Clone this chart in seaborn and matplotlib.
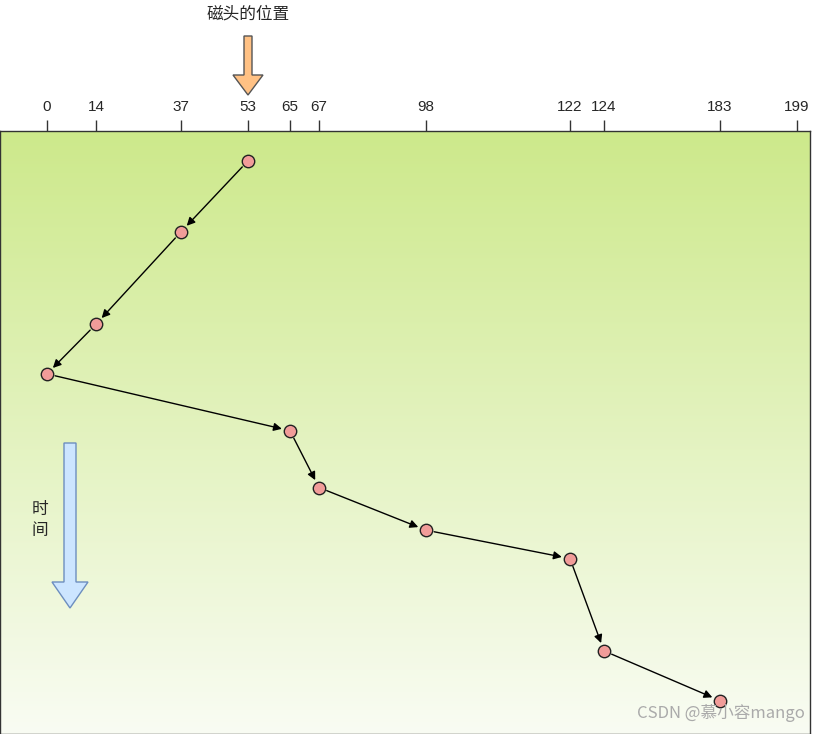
import numpy as np
import matplotlib.pyplot as plt
import matplotlib.colors as mcolors
import matplotlib.patches as mpatches
import seaborn as sns

sns.set_style("white")
plt.rcParams['font.family'] = ['Noto Sans CJK SC', 'DejaVu Sans']

# head positions in service order, and time steps
positions = [53, 37, 14, 0, 65, 67, 98, 122, 124, 183]
times = [0, 1.0, 2.3, 3.0, 3.8, 4.6, 5.2, 5.6, 6.9, 7.6]
tick_values = [0, 14, 37, 53, 65, 67, 98, 122, 124, 183, 199]

# the drawing's cylinder axis is not evenly spaced: piecewise scale anchors
scale_vals = [-12.5] + tick_values + [202.4]
scale_px = [0, 47, 96, 181, 248, 290, 319, 426, 570, 604, 720, 797, 810]


def fwd(v):
    return np.interp(v, scale_vals, scale_px)


def inv(p):
    return np.interp(p, scale_px, scale_vals)


fig = plt.figure(figsize=(8.19, 7.34), dpi=100)
ax = fig.add_axes([0.0, 0.0, 810 / 819, (733 - 130) / 734])
ax.set_xscale("function", functions=(fwd, inv))

# gradient background
cmap = mcolors.LinearSegmentedColormap.from_list("g", ["#cde98b", "#f9fcf3"])
grad = np.linspace(0, 1, 256).reshape(-1, 1)
ax.imshow(grad, cmap=cmap, aspect="auto", extent=[0, 1, 0, 1],
          transform=ax.transAxes, origin="upper", zorder=0)

# arrows between consecutive requests
for i in range(len(positions) - 1):
    ax.annotate("", xy=(positions[i + 1], times[i + 1]), xytext=(positions[i], times[i]),
                arrowprops=dict(arrowstyle="-|>", color="black", lw=1,
                                shrinkA=6, shrinkB=6, mutation_scale=12), zorder=2)

sns.scatterplot(x=positions, y=times, ax=ax, s=80, color="#f19c99",
                edgecolor="#222222", linewidth=1, zorder=3)

ax.set_xlim(-12.5, 202.4)
ax.set_ylim(8.07, -0.42)
ax.xaxis.tick_top()
ax.set_xticks(tick_values)
ax.set_xticklabels([str(v) for v in tick_values], fontsize=11, family="Liberation Sans")
ax.xaxis.set_minor_locator(plt.NullLocator())
ax.tick_params(axis="x", direction="out", length=8, width=1, color="#333333", pad=4)
ax.set_yticks([])
for s in ax.spines.values():
    s.set_color("#333333")
    s.set_linewidth(1)

# head position label and arrow
fig.text(248 / 819, 1 - 14 / 734, "磁头的位置", ha="center", va="center", fontsize=12)
fig.patches.append(mpatches.FancyArrow(
    248 / 819, 1 - 36 / 734, 0, -(95 - 36) / 734, width=8 / 819, head_width=30 / 819,
    head_length=20 / 734, length_includes_head=True, transform=fig.transFigure,
    facecolor="#ffc184", edgecolor="#555555", lw=1))

# time arrow
fig.text(40 / 819, 1 - 520 / 734, "时\n间", ha="center", va="center", fontsize=12, linespacing=1.3)
fig.patches.append(mpatches.FancyArrow(
    70 / 819, 1 - 443 / 734, 0, -(608 - 443) / 734, width=12 / 819, head_width=36 / 819,
    head_length=26 / 734, length_includes_head=True, transform=fig.transFigure,
    facecolor="#cce5ff", edgecolor="#6c8ebf", lw=1))

fig.text(805 / 819, 1 - 713 / 734, "CSDN @慕小容mango", ha="right", va="center",
         fontsize=12, color="#aaaaaa")

fig.savefig("out.png", dpi=100)
